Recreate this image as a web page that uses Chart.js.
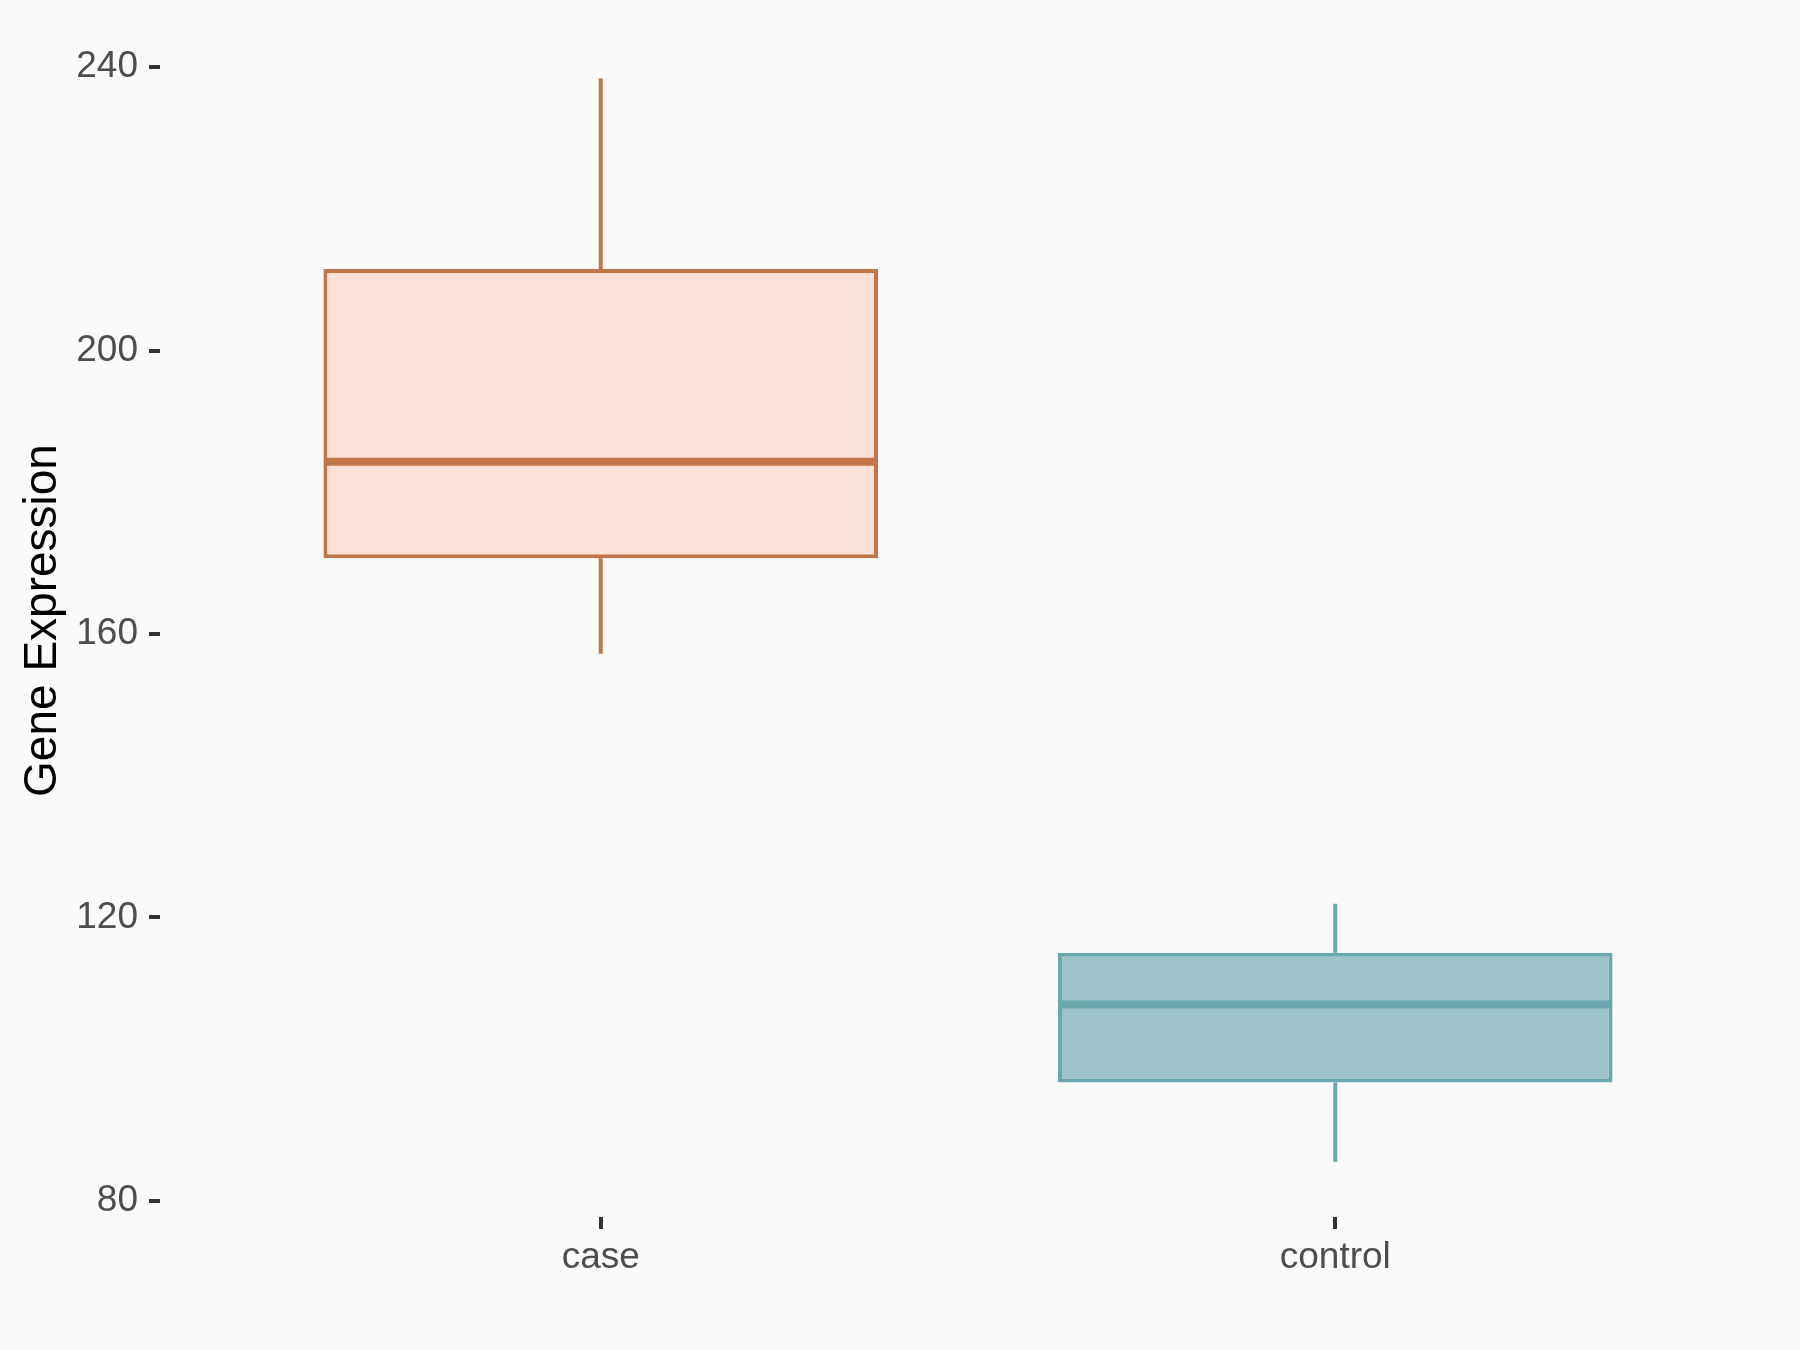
<!DOCTYPE html>
<html>
<head>
<meta charset="utf-8">
<script src="https://cdn.jsdelivr.net/npm/chart.js@4.4.1/dist/chart.umd.min.js"></script>
<style>
  html, body { margin: 0; padding: 0; background: #FAFAFA; }
  #wrap { width: 1800px; height: 1350px; }
</style>
</head>
<body>
<div id="wrap"><canvas id="c"></canvas></div>
<script>
// box plot values
var categories = ['case', 'control'];
var whiskerLow = [157.2, 85.5];
var q1 = [170.7, 96.7];
var median = [184.3, 107.7];
var q3 = [211.5, 115.0];
var whiskerHigh = [238.4, 121.9];
var yTicks = [80, 120, 160, 200, 240];

var fills = ['#FEE1D6', '#9CC4C8'];
var lines = ['#C1764A', '#69A8AE'];

var boxes = categories.map(function (c, i) {
  return { x: i + 1, y: [q1[i], q3[i]] };
});

var font = '"Liberation Sans", Arial, sans-serif';

// whiskers behind the boxes, medians on top
var boxPlot = {
  id: 'boxPlot',
  beforeDraw: function (chart) {
    var ctx = chart.ctx;
    ctx.save();
    ctx.fillStyle = '#FAFAFA';
    ctx.fillRect(0, 0, chart.width, chart.height);
    ctx.restore();
  },
  beforeDatasetsDraw: function (chart) {
    var ctx = chart.ctx, x = chart.scales.x, y = chart.scales.y;
    ctx.save();
    ctx.lineWidth = 4;
    categories.forEach(function (c, i) {
      var px = x.getPixelForValue(i + 1);
      ctx.strokeStyle = lines[i];
      ctx.beginPath();
      ctx.moveTo(px, y.getPixelForValue(whiskerHigh[i]));
      ctx.lineTo(px, y.getPixelForValue(q3[i]));
      ctx.moveTo(px, y.getPixelForValue(q1[i]));
      ctx.lineTo(px, y.getPixelForValue(whiskerLow[i]));
      ctx.stroke();
    });
    ctx.restore();
  },
  afterDatasetsDraw: function (chart) {
    var ctx = chart.ctx, y = chart.scales.y;
    var meta = chart.getDatasetMeta(0);
    ctx.save();
    ctx.lineWidth = 8;
    categories.forEach(function (c, i) {
      var bar = meta.data[i];
      var py = y.getPixelForValue(median[i]);
      ctx.strokeStyle = lines[i];
      ctx.beginPath();
      ctx.moveTo(bar.x - bar.width / 2 + 2, py);
      ctx.lineTo(bar.x + bar.width / 2 - 2, py);
      ctx.stroke();
    });
    ctx.restore();
  }
};

new Chart(document.getElementById('c'), {
  type: 'bar',
  data: {
    datasets: [{
      data: boxes,
      backgroundColor: fills,
      borderColor: lines,
      borderWidth: 4,
      borderSkipped: false,
      categoryPercentage: 1,
      barPercentage: 0.755
    }]
  },
  options: {
    responsive: true,
    maintainAspectRatio: false,
    animation: false,
    layout: { padding: { top: 24, right: 24, left: 0, bottom: 0 } },
    plugins: { legend: { display: false }, tooltip: { enabled: false } },
    scales: {
      x: {
        type: 'linear',
        min: 0.4,
        max: 2.6,
        offset: false,
        afterBuildTicks: function (s) {
          s.ticks = categories.map(function (c, i) { return { value: i + 1 }; });
        },
        afterFit: function (s) {
          s.height = 133;
          s.paddingLeft = 0;
          s.paddingRight = 0;
        },
        grid: { offset: false, drawOnChartArea: false, drawTicks: true, tickLength: 12, color: '#333333', lineWidth: 4 },
        border: { display: false },
        ticks: {
          autoSkip: false,
          maxRotation: 0,
          padding: 7,
          color: '#4D4D4D',
          font: { family: font, size: 37 },
          callback: function (v) { return categories[v - 1]; }
        }
      },
      y: {
        min: 77.7,
        max: 246.1,
        afterBuildTicks: function (s) {
          s.ticks = yTicks.map(function (v) { return { value: v }; });
        },
        afterFit: function (s) {
          s.width = 160;
          s.paddingTop = 0;
          s.paddingBottom = 0;
        },
        grid: { drawOnChartArea: false, drawTicks: true, tickLength: 11, color: '#333333', lineWidth: 4 },
        border: { display: false },
        ticks: {
          padding: 11,
          color: '#4D4D4D',
          font: { family: font, size: 37 }
        },
        title: {
          display: true,
          text: 'Gene Expression',
          color: '#000000',
          font: { family: font, size: 46, lineHeight: 1.2 },
          padding: { top: 16, bottom: 0 }
        }
      }
    }
  },
  plugins: [boxPlot]
});
</script>
</body>
</html>
